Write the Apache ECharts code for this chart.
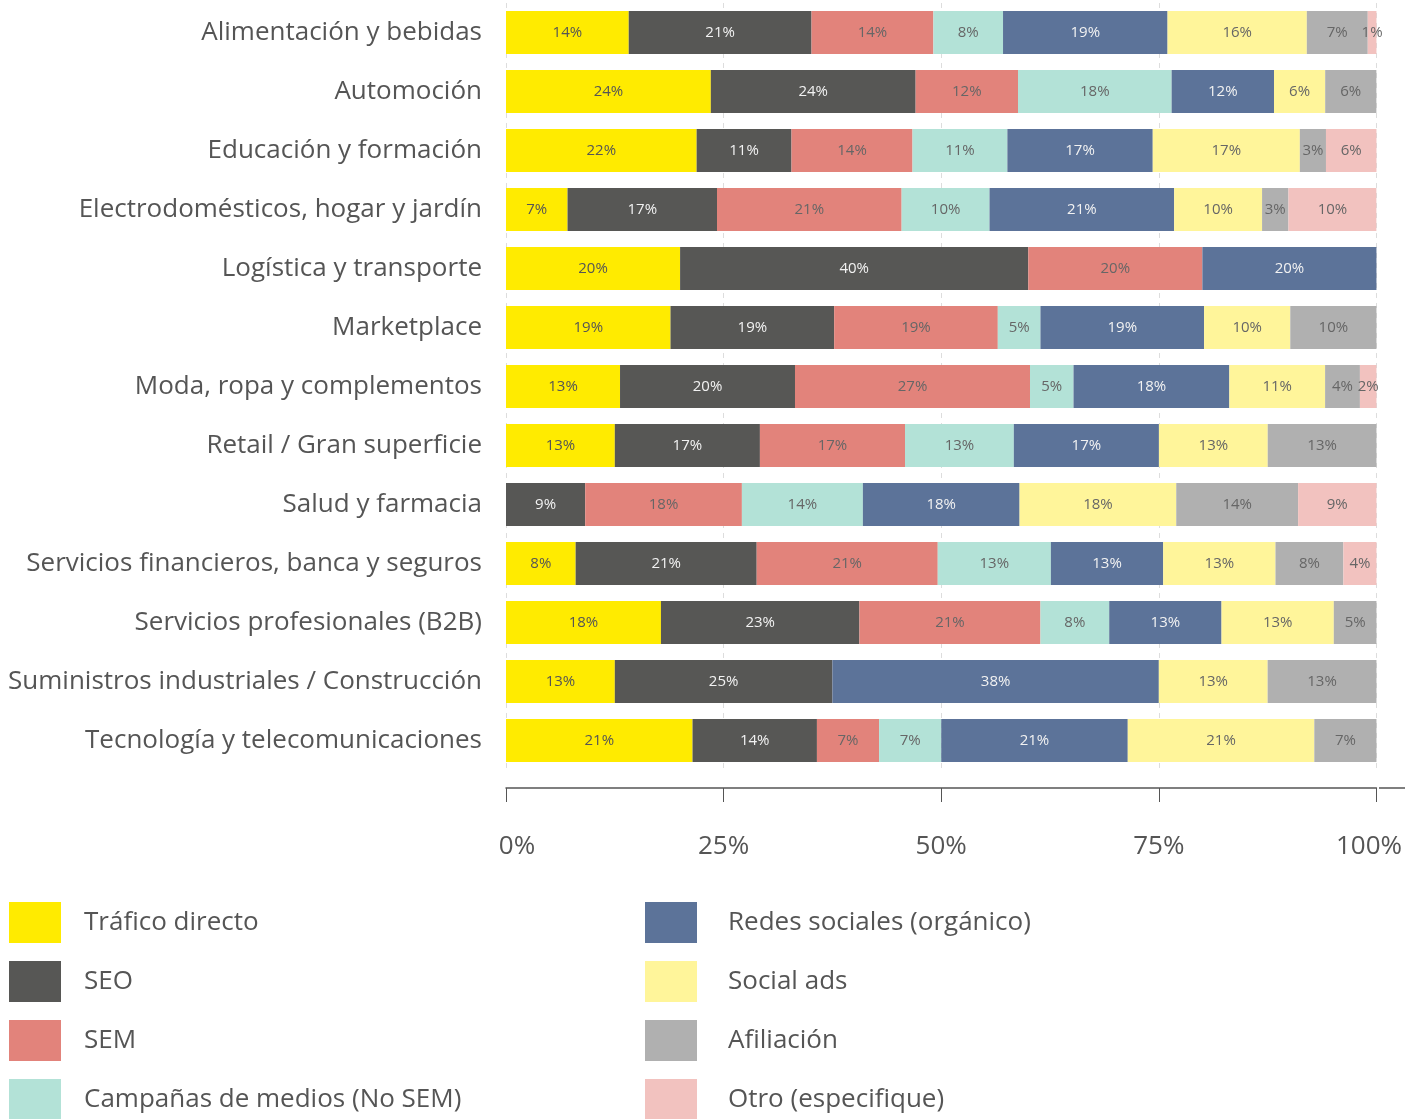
<!DOCTYPE html>
<html>
<head>
<meta charset="utf-8">
<script src="https://cdn.jsdelivr.net/npm/echarts@6/dist/echarts.min.js"></script>
<style>
  html, body { margin: 0; padding: 0; background: #fff; }
  #chart { width: 1405px; height: 1119px; }
</style>
</head>
<body>
<div id="chart"></div>
<script>
const categories = [
  'Alimentación y bebidas',
  'Automoción',
  'Educación y formación',
  'Electrodomésticos, hogar y jardín',
  'Logística y transporte',
  'Marketplace',
  'Moda, ropa y complementos',
  'Retail / Gran superficie',
  'Salud y farmacia',
  'Servicios financieros, banca y seguros',
  'Servicios profesionales (B2B)',
  'Suministros industriales / Construcción',
  'Tecnología y telecomunicaciones'
]

const seriesNames = [
  'Tráfico directo', 'SEO', 'SEM', 'Campañas de medios (No SEM)',
  'Redes sociales (orgánico)', 'Social ads', 'Afiliación', 'Otro (especifique)'
]

// % por sector
const traficoDirecto = [14.1, 23.53, 21.9, 7.07, 20, 18.9, 13.1, 12.5, 0, 8.0, 17.8, 12.5, 21.43]
const seo = [21.0, 23.53, 10.9, 17.17, 40, 18.8, 20.1, 16.67, 9.1, 20.8, 22.8, 25, 14.29]
const sem = [14.0, 11.76, 13.9, 21.21, 20, 18.8, 27.0, 16.67, 18.0, 20.8, 20.8, 0, 7.14]
const campanas = [8.0, 17.65, 10.9, 10.10, 0, 4.9, 5.0, 12.5, 13.9, 13.0, 7.9, 0, 7.14]
const redesSociales = [18.9, 11.76, 16.7, 21.21, 20, 18.8, 17.9, 16.67, 18.0, 12.9, 12.9, 37.5, 21.43]
const socialAds = [16.0, 5.88, 16.9, 10.10, 0, 9.9, 11.0, 12.5, 18.0, 12.9, 12.9, 12.5, 21.43]
const afiliacion = [7.0, 5.88, 3.0, 3.03, 0, 9.9, 4.0, 12.5, 14.0, 7.8, 4.9, 12.5, 7.14]
const otro = [1.0, 0, 5.8, 10.10, 0, 0, 1.9, 0, 9.0, 3.8, 0, 0, 0]

const xTicks = [0, 25, 50, 75, 100]

const seriesData = [traficoDirecto, seo, sem, campanas, redesSociales, socialAds, afiliacion, otro]
const colors = ['#ffeb00', '#575755', '#e2837b', '#b3e2d7', '#5c7399', '#fff59a', '#b0b0b0', '#f2c2bf']
const labelColors = ['#555', '#f2f2f2', '#666', '#666', '#f2f2f2', '#666', '#666', '#666']

const FONT = '"Open Sans", "Noto Sans", sans-serif'

const gridLeft = 506, gridRight = 26, gridTop = 3, gridHeight = 767, axisOffset = 18

const chart = echarts.init(document.getElementById('chart'))

const legendBase = {
  orient: 'vertical',
  top: 902,
  height: 220,
  padding: 0,
  itemWidth: 52,
  itemHeight: 41,
  itemGap: 18,
  icon: 'rect'
}

const option = {
  backgroundColor: '#fff',
  animation: false,
  color: colors,
  grid: {
    left: gridLeft,
    right: gridRight,
    top: gridTop,
    height: gridHeight
  },
  legend: [
    Object.assign({}, legendBase, {
      data: seriesNames.slice(0, 4),
      left: 9,
      textStyle: { fontSize: 26, color: '#555', fontFamily: FONT, padding: [14, 0, 0, 18] }
    }),
    Object.assign({}, legendBase, {
      data: seriesNames.slice(4),
      left: 645,
      textStyle: { fontSize: 26, color: '#555', fontFamily: FONT, padding: [14, 0, 0, 26] }
    })
  ],
  // la línea del eje sigue hasta el borde derecho
  graphic: [{
    type: 'line',
    shape: {
      x1: 1405 - gridRight, y1: gridTop + gridHeight + axisOffset,
      x2: 1405, y2: gridTop + gridHeight + axisOffset
    },
    style: { stroke: '#555', lineWidth: 1.5 }
  }],
  xAxis: {
    type: 'value',
    min: xTicks[0],
    max: xTicks[xTicks.length - 1],
    interval: 25,
    offset: axisOffset,
    axisLine: { show: true, lineStyle: { color: '#555', width: 1.5 } },
    axisTick: { show: true, length: 14, lineStyle: { color: '#555' } },
    axisLabel: {
      margin: 46,
      fontSize: 26,
      color: '#555',
      fontFamily: FONT,
      formatter: function (v) {
        if (v === xTicks[0]) return '{first|' + v + '%}'
        if (v === xTicks[xTicks.length - 1]) return '{last|' + v + '%}'
        return v + '%'
      },
      rich: {
        first: { fontSize: 26, color: '#555', fontFamily: FONT, padding: [0, 0, 0, 22] },
        last: { fontSize: 26, color: '#555', fontFamily: FONT, padding: [0, 15, 0, 0] }
      }
    },
    splitLine: {
      show: true,
      lineStyle: { color: '#dddddd', type: [5, 5] }
    }
  },
  yAxis: {
    type: 'category',
    data: categories,
    inverse: true,
    axisLine: { show: false },
    axisTick: { show: false },
    axisLabel: {
      margin: 24,
      fontSize: 26,
      color: '#555',
      fontFamily: FONT,
      padding: [0, 0, 4, 0]
    }
  },
  series: seriesNames.map((name, i) => ({
    name: name,
    type: 'bar',
    stack: 'total',
    barWidth: 43,
    data: seriesData[i],
    itemStyle: { color: colors[i] },
    label: {
      show: true,
      position: 'inside',
      fontSize: 15,
      fontFamily: FONT,
      color: labelColors[i],
      formatter: p => (p.value > 0 ? Math.round(p.value) + '%' : '')
    }
  }))
}

chart.setOption(option)
</script>
</body>
</html>
